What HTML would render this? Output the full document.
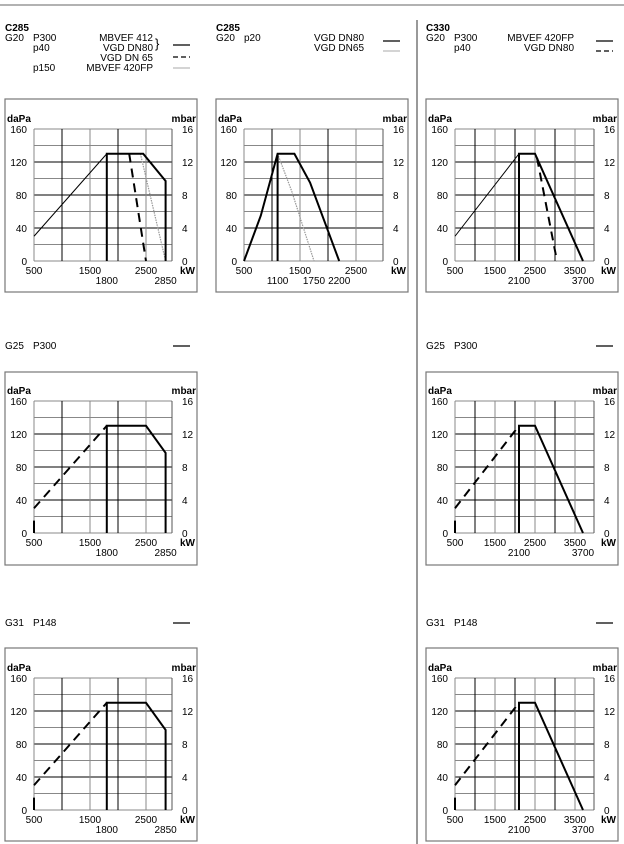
<!DOCTYPE html>
<html><head><meta charset="utf-8"><style>
body{margin:0;background:#fff;}
svg{display:block;font-family:"Liberation Sans",Arial,sans-serif;}
text{font-size:10px;fill:#000;}
</style></head><body>
<svg id="s" width="624" height="844" viewBox="0 0 624 844" xmlns="http://www.w3.org/2000/svg">
<line x1="0" y1="5" x2="624" y2="5" stroke="#999" stroke-width="1.5"/>
<line x1="417" y1="20" x2="417" y2="844" stroke="#999" stroke-width="2"/>
<g>
<text x="5" y="31" font-weight="bold">C285</text>
<text x="5" y="41">G20</text><text x="33" y="41">P300</text><text x="33" y="51">p40</text><text x="33" y="71">p150</text>
<text x="153" y="41" text-anchor="end">MBVEF 412</text><text x="153" y="51" text-anchor="end">VGD DN80</text>
<text x="153" y="61" text-anchor="end">VGD DN 65</text><text x="153" y="71" text-anchor="end">MBVEF 420FP</text>
<text x="155" y="48" style="font-size:13px">}</text>
<line x1="173" y1="45" x2="190" y2="45" stroke="#000" stroke-width="1.3"/>
<line x1="173" y1="57" x2="190" y2="57" stroke="#000" stroke-width="1.3" stroke-dasharray="5,3"/>
<line x1="173" y1="68" x2="190" y2="68" stroke="#bbb" stroke-width="1.3"/>
</g>
<g>
<text x="216" y="31" font-weight="bold">C285</text>
<text x="216" y="41">G20</text><text x="244" y="41">p20</text>
<text x="364" y="41" text-anchor="end">VGD DN80</text><text x="364" y="51" text-anchor="end">VGD DN65</text>
<line x1="383" y1="41" x2="400" y2="41" stroke="#000" stroke-width="1.3"/>
<line x1="383" y1="51" x2="400" y2="51" stroke="#bbb" stroke-width="1.3"/>
</g>
<g>
<text x="426" y="31" font-weight="bold">C330</text>
<text x="426" y="41">G20</text><text x="454" y="41">P300</text><text x="454" y="51">p40</text>
<text x="574" y="41" text-anchor="end">MBVEF 420FP</text><text x="574" y="51" text-anchor="end">VGD DN80</text>
<line x1="596" y1="41" x2="613" y2="41" stroke="#000" stroke-width="1.3"/>
<line x1="596" y1="51" x2="613" y2="51" stroke="#000" stroke-width="1.3" stroke-dasharray="5,3"/>
</g>
<g><text x="5" y="349">G25</text><text x="33" y="349">P300</text><line x1="173" y1="346" x2="190" y2="346" stroke="#000" stroke-width="1.3"/></g>
<g><text x="426" y="349">G25</text><text x="454" y="349">P300</text><line x1="596" y1="346" x2="613" y2="346" stroke="#000" stroke-width="1.3"/></g>
<g><text x="5" y="626">G31</text><text x="33" y="626">P148</text><line x1="173" y1="623" x2="190" y2="623" stroke="#000" stroke-width="1.3"/></g>
<g><text x="426" y="626">G31</text><text x="454" y="626">P148</text><line x1="596" y1="623" x2="613" y2="623" stroke="#000" stroke-width="1.3"/></g>
</svg>
<script>
// ---- data (kW, daPa) ----
const yTicks = [0, 40, 80, 120, 160];
const mbarTicks = [0, 4, 8, 12, 16];
// C285 G20 P300
const c1Thin = [[500,30],[1800,130]];
const c1Thick = [[1800,0],[1800,130],[2450,130],[2850,97],[2850,0]];
const c1Dash = [[2200,130],[2500,0]];
const c1Gray = [[2400,130],[2850,0]];
const c1Top = [500,1500,2500], c1Bot = [1800,2850];
// C285 G20 p20
const c2Thick = [[500,0],[800,55],[1100,130],[1400,130],[1680,95],[2200,0]];
const c2Vert = [[1100,0],[1100,130]];
const c2Gray = [[1100,130],[1350,85],[1750,0]];
const c2Top = [500,1500,2500], c2Bot = [1100,1750,2200];
// C330 G20
const c3Thin = [[500,30],[2100,130]];
const c3Thick = [[2100,0],[2100,130],[2500,130],[3700,0]];
const c3Dash = [[2550,125],[3050,0]];
const c3Top = [500,1500,2500,3500], c3Bot = [2100,3700];
// C285 G25 / G31
const lDash = [[500,30],[1800,130]];
const lStub = [[500,0],[500,15]];
const lThick = [[1800,0],[1800,130],[2500,130],[2850,97],[2850,0]];
const lTop = [500,1500,2500], lBot = [1800,2850];
// C330 G25 / G31
const rDash = [[500,30],[2100,130]];
const rStub = [[500,0],[500,15]];
const rThick = [[2100,0],[2100,130],[2500,130],[3700,0]];
const rTop = [500,1500,2500,3500], rBot = [2100,3700];

const NS = "http://www.w3.org/2000/svg";
const svg = document.getElementById('s');
function mk(tag, attrs, parent){const e=document.createElementNS(NS,tag);for(const k in attrs)e.setAttribute(k,attrs[k]);(parent||svg).appendChild(e);return e;}

function chart(name, fx, fy, px, pr, pxPerK, y0, series, topL, botL){
  const g = mk('g',{});
  
  
  const fw = 192, fh = 193;
  const xS = v => px + (v-500)*pxPerK/1000;
  const yS = v => y0 - v*132/160;
  const fr = mk('rect',{x:fx,y:fy,width:fw,height:fh,fill:'none',stroke:'#777','stroke-width':1.2},g);
  
  
  for(let v=0; v<=160; v+=20){
    const l = mk('line',{x1:px,x2:pr,y1:yS(v),y2:yS(v),stroke:(v%40===0&&v>0&&v<160)?'#000':'#888','stroke-width':1},g);
    
    
  }
  for(let k=1000; xS(k)<pr-2; k+=500){
    const l = mk('line',{x1:xS(k),x2:xS(k),y1:yS(160),y2:yS(0),stroke:(k%1000===0)?'#000':'#888','stroke-width':1},g);
    
    
  }
  mk('line',{x1:px,x2:px,y1:yS(160),y2:yS(0),stroke:'#888'},g);
  mk('line',{x1:pr,x2:pr,y1:yS(160),y2:yS(0),stroke:'#555'},g);
  let t = mk('text',{x:fx+2,y:yS(160)-7,'font-weight':'bold'},g); t.textContent='daPa';
   
  t = mk('text',{x:fx+fw-1,y:yS(160)-7,'font-weight':'bold','text-anchor':'end'},g); t.textContent='mbar';
   
  yTicks.forEach((v,i)=>{
    let a = mk('text',{x:px-7,y:yS(v)+4,'text-anchor':'end'},g); a.textContent=v;
     
    let b = mk('text',{x:pr+10,y:yS(v)+4},g); b.textContent=mbarTicks[i];
     
  });
  topL.forEach(v=>{let a=mk('text',{x:xS(v),y:y0+13,'text-anchor':'middle'},g);a.textContent=v;
     });
  botL.forEach(v=>{let a=mk('text',{x:xS(v),y:y0+23,'text-anchor':'middle'},g);a.textContent=v;
     });
  t = mk('text',{x:fx+fw-2,y:y0+13,'font-weight':'bold','text-anchor':'end'},g); t.textContent='kW';
   
  series.forEach(s=>{
    const st = {thin:['#000',1,''],thick:['#000',2,''],dash:['#000',2,'9,6'],gray:['#999',1.2,'1.5,1']}[s.style];
    const p = mk('polyline',{points:s.d.map(q=>xS(q[0])+','+yS(q[1])).join(' '),fill:'none',stroke:st[0],'stroke-width':st[1],'stroke-dasharray':st[2]},g);
    
    
  });
}
chart('chart-c285-g20-p300',5,99,34,172,56,261,[
 {d:c1Thin,style:'thin',name:'mbvef412-min-line'},{d:c1Gray,style:'gray',name:'mbvef420fp-line'},
 {d:c1Dash,style:'dash',name:'vgd-dn65-line'},{d:c1Thick,style:'thick',name:'vgd-dn80-line'}],c1Top,c1Bot);
chart('chart-c285-g20-p20',216,99,244,383,56,261,[
 {d:c2Gray,style:'gray',name:'vgd-dn65-line'},{d:c2Thick,style:'thick',name:'vgd-dn80-line'},
 {d:c2Vert,style:'thick',name:'min-output-line'}],c2Top,c2Bot);
chart('chart-c330-g20',426,99,455,594,40,261,[
 {d:c3Thin,style:'thin',name:'min-line'},{d:c3Dash,style:'dash',name:'vgd-dn80-line'},
 {d:c3Thick,style:'thick',name:'mbvef420fp-line'}],c3Top,c3Bot);
chart('chart-c285-g25',5,372,34,172,56,533,[
 {d:lDash,style:'dash',name:'start-line'},{d:lStub,style:'thick',name:'start-stub'},
 {d:lThick,style:'thick',name:'working-line'}],lTop,lBot);
chart('chart-c330-g25',426,372,455,594,40,533,[
 {d:rDash,style:'dash',name:'start-line'},{d:rStub,style:'thick',name:'start-stub'},
 {d:rThick,style:'thick',name:'working-line'}],rTop,rBot);
chart('chart-c285-g31',5,648,34,172,56,810,[
 {d:lDash,style:'dash',name:'start-line'},{d:lStub,style:'thick',name:'start-stub'},
 {d:lThick,style:'thick',name:'working-line'}],lTop,lBot);
chart('chart-c330-g31',426,648,455,594,40,810,[
 {d:rDash,style:'dash',name:'start-line'},{d:rStub,style:'thick',name:'start-stub'},
 {d:rThick,style:'thick',name:'working-line'}],rTop,rBot);
</script>
</body></html>
